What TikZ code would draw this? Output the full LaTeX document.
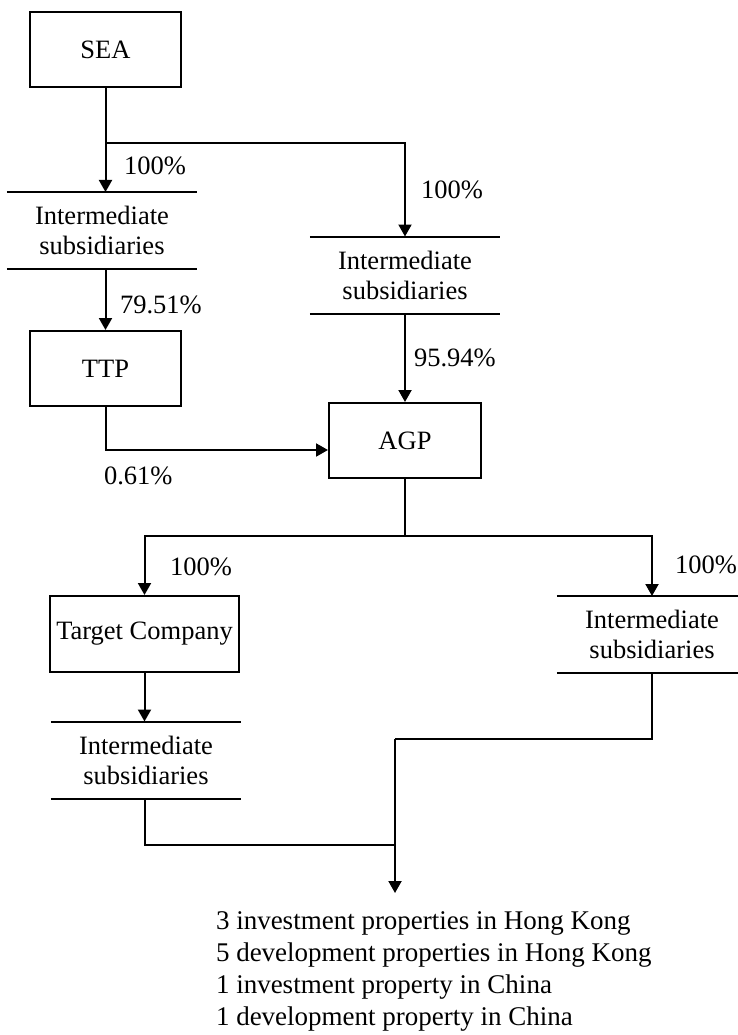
\documentclass[tikz,border=0pt]{standalone}
\usepackage{fontspec}
\setmainfont{Liberation Serif}
\usetikzlibrary{arrows.meta}

\begin{document}
\begin{tikzpicture}[x=1pt, y=-1pt, line width=2pt,
        >={Triangle[length=12pt,width=13pt]},
        every node/.style={font=\fontsize{26.5}{30}\selectfont},
        box/.style={draw, minimum width=151pt, minimum height=75pt, inner sep=0pt},
        subs/.style={minimum width=188.5pt, minimum height=75pt, inner sep=0pt, align=center},
        pct/.style={anchor=west, inner sep=0pt}]
        \useasboundingbox (0,0) rectangle (737,1035);
        \node[box] (sea) at (105.5,49.5) {SEA};
        \node[subs] (subA) at (102,230.5) {Intermediate\\subsidiaries};
        \node[box] (ttp) at (105.5,368.5) {TTP};
        \node[subs] (subB) at (405,275) {Intermediate\\subsidiaries};
        \node[box, minimum width=152pt] (agp) at (405,440.5) {AGP};
        \node[box, minimum width=189pt, minimum height=76pt] (target) at (144.5,634) {Target Company};
        \node[subs] (subC) at (652,634.5) {Intermediate\\subsidiaries};
        \node[subs] (subD) at (146,760) {Intermediate\\subsidiaries};
        \node[anchor=north west, align=left, inner sep=0pt, font=\fontsize{27}{32}\selectfont] (props) at (215,911)
            {3 investment properties in Hong Kong\\5 development properties in Hong Kong\\1 investment property in China\\1 development property in China};
        \foreach \s in {subA, subB, subC, subD} {
            \draw (\s.north west) -- (\s.north east);
            \draw (\s.south west) -- (\s.south east);
        }
        \coordinate (seaSplit) at (105.5,143);
        \coordinate (agpSplit) at (405,536);
        \coordinate (merge) at (395,739);
        \coordinate (join) at (395,845);
        \coordinate (tip) at (395,893);
        \draw[->] (sea.south) -- (sea.south |- subA.north);
        \draw[->] (seaSplit) -| (subB.north);
        \draw[->] (subA.south -| sea.south) -- (ttp.north);
        \draw[->] (ttp.south) |- ([yshift=-9.5pt]agp.west);
        \draw[->] (subB.south) -- (agp.north);
        \draw (agp.south) -- (agpSplit);
        \draw[->] (agpSplit) -| (target.north);
        \draw[->] (agpSplit) -| (subC.north);
        \draw[->] (target.south) -- (target.south |- subD.north);
        \draw (subC.south) |- (merge);
        \draw (subD.south -| target.south) |- (join);
        \draw[->] (merge) -- (tip);
        \node[pct] (pSea) at (123,166) {100\%};
        \node[pct] (pSeaB) at (420,190) {100\%};
        \node[pct] (pTtp) at (119,305) {79.51\%};
        \node[pct] (pTtpAgp) at (103,476) {0.61\%};
        \node[pct] (pAgp) at (413,358) {95.94\%};
        \node[pct] (pTarget) at (169,567) {100\%};
        \node[pct] (pSubC) at (674,565) {100\%};
    \end{tikzpicture}
\end{document}
